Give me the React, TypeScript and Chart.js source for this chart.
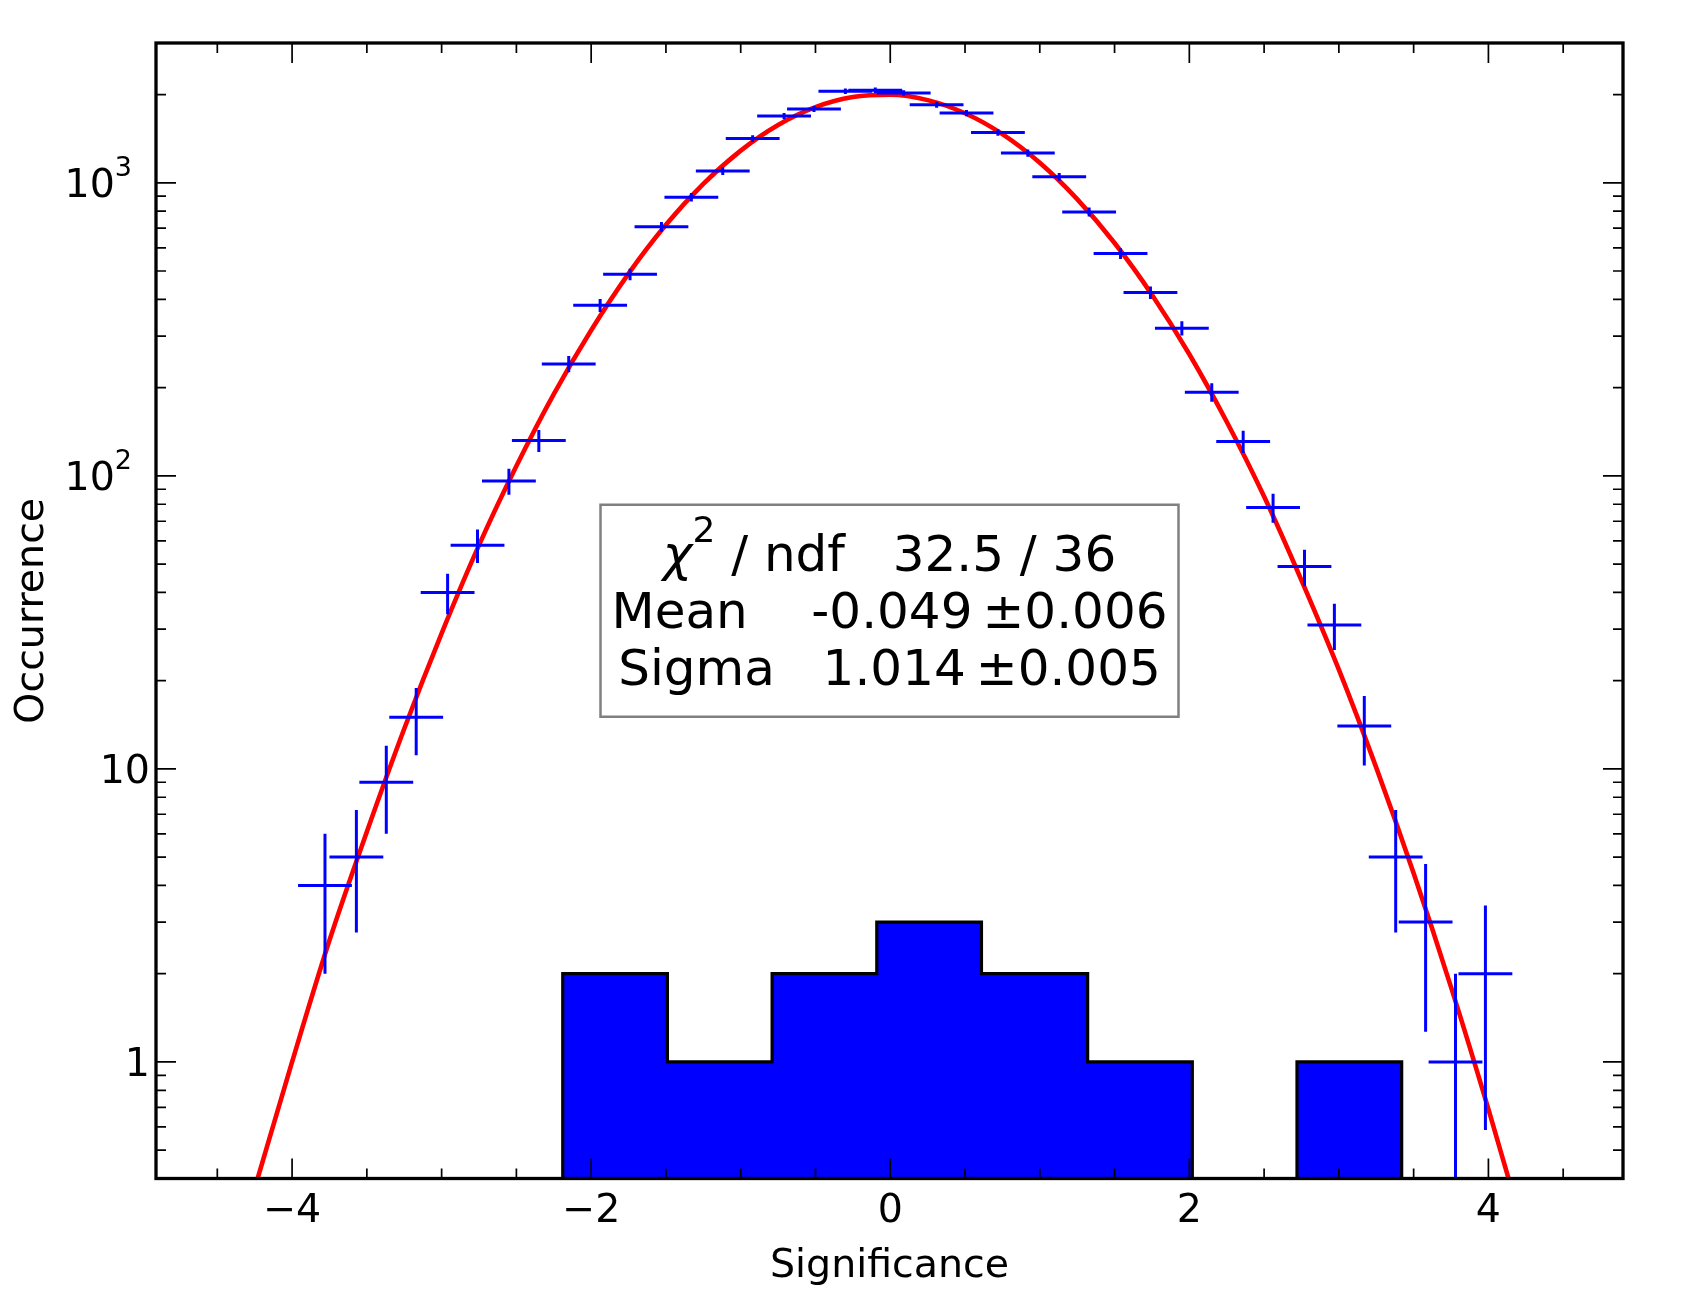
import { useEffect, useRef } from "react"
import { Chart, registerables } from "chart.js"

Chart.register(...registerables)

// Data points: bin centres (significance) and occurrences
const binCenters = [
  -3.78, -3.57, -3.37, -3.17, -2.96, -2.76, -2.55, -2.35, -2.15, -1.94,
  -1.74, -1.53, -1.33, -1.12, -0.92, -0.71, -0.51, -0.3, -0.1, 0.09,
  0.31, 0.51, 0.72, 0.92, 1.13, 1.33, 1.54, 1.74, 1.95, 2.15,
  2.36, 2.56, 2.77, 2.97, 3.17, 3.38, 3.58, 3.78, 3.98,
]
const counts = [
  4, 5, 9, 15, 40, 58, 96, 132, 241, 382,
  487, 708, 893, 1097, 1416, 1690, 1785, 2053, 2069, 2026,
  1848, 1730, 1485, 1264, 1048, 795, 574, 422, 319, 193,
  131, 78, 49, 31, 14, 5, 3, 1, 2,
]
const xError = 0.18

// Gaussian fit curve
const fitX = [
  -4.25, -4.0, -3.75, -3.5, -3.25, -3.0, -2.75, -2.5, -2.25, -2.0, -1.75, -1.5,
  -1.25, -1.0, -0.75, -0.5, -0.25, 0.0, 0.25, 0.5, 0.75, 1.0, 1.25, 1.5,
  1.75, 2.0, 2.25, 2.5, 2.75, 3.0, 3.25, 3.5, 3.75, 4.0, 4.25,
]
const fitY = [
  0.37, 1.0, 2.6, 6.1, 13.7, 29, 58, 108, 190, 314, 490, 719,
  992, 1288, 1575, 1812, 1961, 1998, 1915, 1727, 1466, 1171, 880, 623,
  415, 260, 153, 85, 44, 21.8, 10.1, 4.4, 1.8, 0.69, 0.25,
]

// Filled histogram
const histEdges = [-2.19, -1.49, -0.79, -0.09, 0.61, 1.32, 2.02, 2.72, 3.42]
const histCounts = [2, 1, 2, 3, 2, 1, 0, 1]

// Axes
const xMin = -4.91
const xMax = 4.9
const yMin = 0.4
const yMax = 3000
const xTickValues = [-4, -2, 0, 2, 4]
const xTickLabels = ["\u22124", "\u22122", "0", "2", "4"]
const xMinorTicks = [-4.5, -3.5, -3, -2.5, -1.5, -1, -0.5, 0.5, 1, 1.5, 2.5, 3, 3.5, 4.5]
const yTickValues = [1, 10, 100, 1000]
const yTickBase = ["1", "10", "10", "10"]
const yTickExp = ["", "", "2", "3"]

// Fit result box
const statLabels = ["Mean", "Sigma"]
const statValues = ["-0.049\u2009\u00b10.006", "1.014\u2009\u00b10.005"]
const chiText = " / ndf   32.5 / 36"

const FLOOR = 0.1 // below the axis minimum, for empty bins / error bars reaching zero
const FONT = '"DejaVu Sans", sans-serif'
const font = (size: number, style = "") => `${style} ${size}px ${FONT}`.trim()
const AXIS_FS = 39.5
const BOX_FS = 50

const overlay = {
  id: "overlay",
  afterDatasetsDraw(chart: any) {
    const { ctx, chartArea: a, scales } = chart
    const xs = scales.x
    const ys = scales.y
    const major = 20
    const minor = 10
    ctx.save()
    ctx.strokeStyle = "#000"
    ctx.fillStyle = "#000"
    ctx.lineWidth = 1.7

    const xTick = (v: number, len: number) => {
      const px = xs.getPixelForValue(v)
      ctx.beginPath()
      ctx.moveTo(px, a.bottom)
      ctx.lineTo(px, a.bottom - len)
      ctx.moveTo(px, a.top)
      ctx.lineTo(px, a.top + len)
      ctx.stroke()
    }
    const yTick = (v: number, len: number) => {
      const py = ys.getPixelForValue(v)
      ctx.beginPath()
      ctx.moveTo(a.left, py)
      ctx.lineTo(a.left + len, py)
      ctx.moveTo(a.right, py)
      ctx.lineTo(a.right - len, py)
      ctx.stroke()
    }
    xTickValues.forEach((v) => xTick(v, major))
    xMinorTicks.forEach((v) => xTick(v, minor))
    yTickValues.forEach((v) => yTick(v, major))
    for (let d = 0.1; d < yMax; d *= 10) {
      for (let m = 2; m <= 9; m++) {
        const v = m * d
        if (v >= yMin && v <= yMax) yTick(v, minor)
      }
    }

    // frame
    ctx.lineWidth = 3.3
    ctx.strokeRect(a.left, a.top, a.right - a.left, a.bottom - a.top)

    // x tick labels
    ctx.font = font(AXIS_FS)
    ctx.textAlign = "center"
    ctx.textBaseline = "alphabetic"
    xTickValues.forEach((v, i) => {
      ctx.fillText(xTickLabels[i], xs.getPixelForValue(v), a.bottom + 43)
    })

    // y tick labels, with superscripts
    yTickValues.forEach((v, i) => {
      const py = ys.getPixelForValue(v) + 14.4
      const exp = yTickExp[i]
      const right = exp ? a.left - 24 : a.left - 6
      ctx.font = font(AXIS_FS)
      const wb = ctx.measureText(yTickBase[i]).width
      ctx.font = font(27)
      const we = exp ? ctx.measureText(exp).width : 0
      ctx.textAlign = "left"
      ctx.font = font(AXIS_FS)
      ctx.fillText(yTickBase[i], right - wb - we, py)
      if (exp) {
        ctx.font = font(27)
        ctx.fillText(exp, right - we, py - 21)
      }
    })

    // axis titles
    ctx.font = font(AXIS_FS)
    ctx.textAlign = "center"
    ctx.fillText("Significance", (a.left + a.right) / 2, a.bottom + 98.5)
    ctx.save()
    ctx.translate(43, (a.top + a.bottom) / 2)
    ctx.rotate(-Math.PI / 2)
    ctx.fillText("Occurrence", 0, 0)
    ctx.restore()

    // fit result box
    const cx = (a.left + a.right) / 2
    const cy = (a.top + a.bottom) / 2
    const bw = 578
    const bh = 212
    const bl = cx - bw / 2
    const bt = cy - bh / 2
    ctx.fillStyle = "#fff"
    ctx.fillRect(bl, bt, bw, bh)
    ctx.strokeStyle = "#808080"
    ctx.lineWidth = 2.5
    ctx.strokeRect(bl, bt, bw, bh)
    ctx.fillStyle = "#000"
    ctx.textAlign = "left"

    ctx.font = font(BOX_FS, "italic")
    const wChi = ctx.measureText("\u03c7").width
    ctx.font = font(36)
    const wSup = ctx.measureText("2").width
    ctx.font = font(BOX_FS)
    const wRest = ctx.measureText(chiText).width
    let tx = cx - (wChi + wSup + wRest) / 2
    const b1 = bt + 66
    ctx.font = font(BOX_FS, "italic")
    ctx.fillText("\u03c7", tx, b1)
    tx += wChi
    ctx.font = font(36)
    ctx.fillText("2", tx, b1 - 29)
    tx += wSup
    ctx.font = font(BOX_FS)
    ctx.fillText(chiText, tx, b1)

    ctx.textAlign = "center"
    const gaps = ["    ", "   "]
    statLabels.forEach((lab, i) => {
      ctx.fillText(lab + gaps[i] + statValues[i], cx, bt + 123 + i * 57)
    })
    ctx.restore()
  },
}

export default function App() {
  const canvasRef = useRef<HTMLCanvasElement>(null)
  const chartRef = useRef<Chart | null>(null)

  useEffect(() => {
    document.body.style.margin = "0"
    if (!canvasRef.current) return
    if (chartRef.current) chartRef.current.destroy()

    // error-bar crosses, separated by gaps
    const crosses: { x: number; y: number | null }[] = []
    binCenters.forEach((x, i) => {
      const n = counts[i]
      const e = Math.sqrt(n)
      crosses.push({ x: x - xError, y: n }, { x: x + xError, y: n }, { x, y: null })
      crosses.push({ x, y: Math.max(n - e, FLOOR) }, { x, y: n + e }, { x, y: null })
    })

    const fit = fitX.map((x, i) => ({ x, y: fitY[i] }))

    // outline of the filled histogram: start at the floor, step up/down at each edge
    const hist: { x: number; y: number }[] = [{ x: histEdges[0], y: FLOOR }]
    histCounts.forEach((c, i) => hist.push({ x: histEdges[i], y: c > 0 ? c : FLOOR }))
    hist.push({ x: histEdges[histEdges.length - 1], y: FLOOR })

    chartRef.current = new Chart(canvasRef.current, {
      type: "line",
      data: {
        datasets: [
          {
            data: crosses,
            borderColor: "#0000ff",
            borderWidth: 3,
            pointRadius: 0,
            spanGaps: false,
            tension: 0,
            fill: false,
            clip: 0,
            order: 0,
          },
          {
            data: fit,
            borderColor: "#ff0000",
            borderWidth: 4.6,
            pointRadius: 0,
            cubicInterpolationMode: "monotone",
            fill: false,
            clip: 0,
            order: 1,
          },
          {
            data: hist,
            borderColor: "#000000",
            backgroundColor: "#0000ff",
            borderWidth: 3.2,
            pointRadius: 0,
            stepped: "before",
            fill: "start",
            clip: 0,
            order: 2,
          },
        ],
      } as any,
      options: {
        responsive: true,
        maintainAspectRatio: false,
        animation: false,
        events: [],
        layout: { padding: { left: 156, top: 43, right: 65, bottom: 123.5 } },
        scales: {
          x: { type: "linear", min: xMin, max: xMax, display: false },
          y: { type: "logarithmic", min: yMin, max: yMax, display: false },
        },
        plugins: {
          legend: { display: false },
          tooltip: { enabled: false },
        },
      },
      plugins: [overlay],
    })

    return () => {
      if (chartRef.current) {
        chartRef.current.destroy()
        chartRef.current = null
      }
    }
  }, [])

  return (
    <div style={{ position: "relative", width: 1688, height: 1302, background: "#fff" }}>
      <canvas ref={canvasRef} />
    </div>
  )
}
